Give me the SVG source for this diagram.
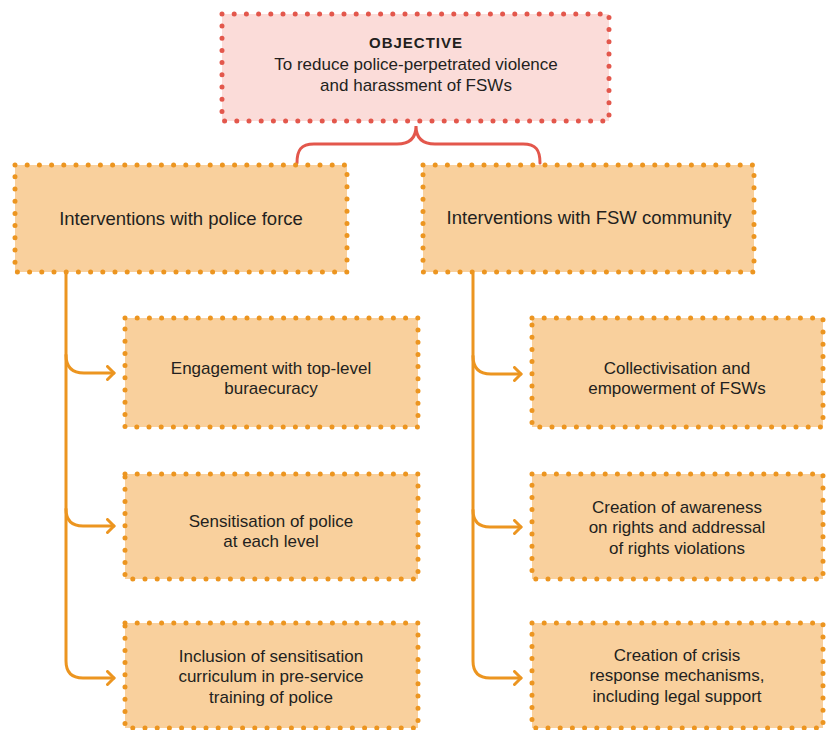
<svg xmlns="http://www.w3.org/2000/svg" width="831" height="730" viewBox="0 0 831 730">
<style>
.obj{fill:#fbdcd9;stroke:#e3574c;stroke-width:5;stroke-dasharray:0 12.2;stroke-linecap:round}
.box{fill:#f9d09d;stroke:#ec9520;stroke-width:5;stroke-dasharray:0 12.2;stroke-linecap:round}
text{font-family:"Liberation Sans",Arial,sans-serif;font-size:17px;fill:#231f20;text-anchor:middle}
.ttl{font-weight:bold;font-size:15px;letter-spacing:1px}
.big{font-size:18.5px}
.con{fill:none;stroke:#ec9520;stroke-width:3;stroke-linecap:round}
.brace{fill:none;stroke:#e3574c;stroke-width:3;stroke-linecap:round}
</style>
<defs>
<marker id="arr" viewBox="0 0 10 16" refX="8.5" refY="8" markerWidth="10" markerHeight="16" markerUnits="userSpaceOnUse" orient="auto">
<path d="M2,1.5 L8.5,8 L2,14.5" fill="none" stroke="#ec9520" stroke-width="3" stroke-linecap="round" stroke-linejoin="round"/>
</marker>
</defs>
<g id="connectors">
<path class="brace" d="M297,163 C297,150 301,144 314,144 H397 C410,144 416,138 416,126 C416,138 422,144 435,144 H523 C536,144 540,150 540,163"/>
<path class="con" d="M66,274 V661 Q66,678 83,678 H114" marker-end="url(#arr)"/>
<path class="con" d="M66,355 Q66,373 84,373 H114" marker-end="url(#arr)"/>
<path class="con" d="M66,509 Q66,526 83,526 H114" marker-end="url(#arr)"/>
<path class="con" d="M473,274 V661 Q473,678 490,678 H521" marker-end="url(#arr)"/>
<path class="con" d="M473,356 Q473,374 491,374 H521" marker-end="url(#arr)"/>
<path class="con" d="M473,510 Q473,527 490,527 H521" marker-end="url(#arr)"/>
</g>
<g id="objective">
<rect class="obj" x="222" y="14" width="387" height="107"/>
<text class="ttl" x="416" y="48">OBJECTIVE</text>
<text x="416" y="70">To reduce police-perpetrated violence</text>
<text x="416" y="91">and harassment of FSWs</text>
</g>
<g id="police">
<rect class="box" x="15" y="165" width="332" height="107"/>
<text class="big" x="181" y="225">Interventions with police force</text>
</g>
<g id="community">
<rect class="box" x="423" y="165" width="331" height="107"/>
<text class="big" x="589" y="224">Interventions with FSW community</text>
</g>
<g id="engagement">
<rect class="box" x="125" y="318" width="293" height="109"/>
<text x="271" y="374">Engagement with top-level</text>
<text x="271" y="394">buraecuracy</text>
</g>
<g id="sensitisation">
<rect class="box" x="125" y="474" width="293" height="105"/>
<text x="271" y="527">Sensitisation of police</text>
<text x="271" y="547">at each level</text>
</g>
<g id="inclusion">
<rect class="box" x="125" y="623" width="293" height="105"/>
<text x="271" y="662">Inclusion of sensitisation</text>
<text x="271" y="682">curriculum in pre-service</text>
<text x="271" y="703">training of police</text>
</g>
<g id="collectivisation">
<rect class="box" x="532" y="318" width="291" height="109"/>
<text x="677" y="374">Collectivisation and</text>
<text x="677" y="394">empowerment of FSWs</text>
</g>
<g id="awareness">
<rect class="box" x="532" y="474" width="291" height="105"/>
<text x="677" y="513">Creation of awareness</text>
<text x="677" y="533">on rights and addressal</text>
<text x="677" y="554">of rights violations</text>
</g>
<g id="crisis">
<rect class="box" x="532" y="623" width="291" height="105"/>
<text x="677" y="661">Creation of crisis</text>
<text x="677" y="681">response mechanisms,</text>
<text x="677" y="702">including legal support</text>
</g>
</svg>
